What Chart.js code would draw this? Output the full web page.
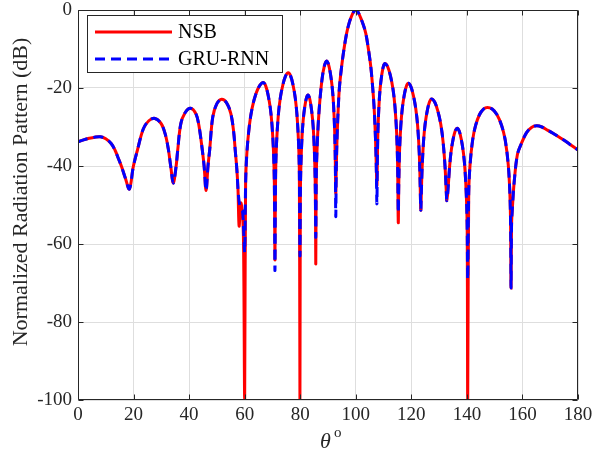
<!DOCTYPE html>
<html><head><meta charset="utf-8">
<script src="https://cdn.jsdelivr.net/npm/chart.js@4.4.1/dist/chart.umd.min.js"></script>
<style>html,body{margin:0;padding:0;background:#fff;}canvas{display:block;}</style>
</head><body>
<canvas id="c" width="605" height="457"></canvas>
<script>
// ---- data ----
const theta = [
  0,2,4,6,8,10,12,13.3,14.5,15.7,17,18.5,
  19.9,21.4,23.5,25.5,27.7,30,31.5,32.5,33.4,34.3,
  35.3,35.9,37,38.5,40.5,42.5,43.5,44.5,45.4,46.1,
  46.8,47.4,48.5,50,51.7,53.5,55,56,56.6,57.2,57.6,
  58,58.6,59.2,59.6,60,
  60.34,60.8,61.7,62.7,64,65.4,66.7,67.54,68.38,69.22,69.85,70.4,70.69,70.9,
  71.14,71.48,72.1,72.82,73.78,74.74,75.7,76.54,77.38,78.22,78.85,79.4,79.69,79.9,
  80.05,80.25,80.63,81.06,81.64,82.22,82.8,83.36,83.92,84.48,84.9,85.26,85.46,85.6,
  85.8,86.1,86.5,87.1,87.9,88.7,89.5,90.16,90.82,91.48,91.98,92.4,92.64,92.8,
  93,93.3,93.7,94.1,94.9,95.8,96.7,97.5,98.3,99.2,100,
  100.8,101.7,102.7,103.6,104.5,105.4,106.1,106.6,107.1,107.35,107.6,
  107.75,107.95,108.33,108.76,109.34,109.92,110.5,111.46,112.42,113.38,114.1,114.72,115.06,115.3,
  115.48,115.73,116.2,116.74,117.46,118.18,118.9,119.8,120.7,121.6,122.28,122.86,123.18,123.4,
  123.6,123.87,124.38,124.96,125.74,126.52,127.3,128.4,129.5,130.6,131.43,132.14,132.53,132.8,
  133.24,133.73,134.28,135.02,135.76,136.5,137.26,138.02,138.78,139.35,139.84,140.11,140.3,
  140.66,141.15,142.08,143.14,144.56,145.98,147.4,149.1,150.8,152.5,153.78,154.88,155.48,155.73,155.9,
  156.08,156.36,157,158.2,159.58,161.42,163.26,165.1,167,169,171,173,175,177,180
];
const nsb = [
  -33.8,-33.3,-32.9,-32.6,-32.5,-33.0,-34.3,-35.9,-38.0,-40.2,-43.0,-45.9,
  -40.2,-35.9,-30.5,-28.4,-27.8,-29.2,-32.1,-35.6,-40.2,-44.4,
  -40.2,-35.9,-29.2,-26.4,-25.2,-26.7,-29.5,-34.5,-40.0,-46.3,
  -40.0,-35.9,-27.5,-24.0,-22.9,-23.8,-26.5,-31.0,-35.9,-41.0,-46.0,
  -55.4,-49.5,-52.0,-60.0,-100,
  -44.6,-36.6,-29.6,-25.1,-21.6,-19.4,-18.6,-19.4,-21.6,-25.1,-29.6,-36.6,-44.6,-64.1,
  -42.1,-34.1,-27.1,-22.6,-19.1,-16.9,-16.1,-16.9,-19.1,-22.6,-27.1,-34.1,-42.1,-100,
  -47.8,-39.8,-32.8,-28.3,-24.8,-22.6,-21.8,-22.6,-24.8,-28.3,-32.8,-39.8,-47.8,-65.1,
  -42,-35,-29,-23,-17.5,-14.3,-13.1,-13.9,-16.1,-19.6,-24.1,-31.1,-39.1,-47,
  -40,-32,-25,-20,-14.5,-9.8,-6,-3.6,-1.9,-0.5,0,
  -0.5,-1.9,-3.8,-6,-9.8,-14.5,-20,-25,-33,-39,-45,
  -39.7,-31.7,-24.7,-20.2,-16.7,-14.5,-13.7,-14.5,-16.7,-20.2,-24.7,-31.7,-39.7,-54.5,
  -44.8,-36.8,-29.8,-25.3,-21.8,-19.6,-18.8,-19.6,-21.8,-25.3,-29.8,-36.8,-44.8,-51.3,
  -46.9,-40.8,-33.8,-29.3,-25.8,-23.6,-22.8,-23.6,-25.8,-29.3,-33.8,-40.2,-45.8,-48.9,
  -45.6,-40.6,-36.5,-33.2,-31.1,-30.3,-31.1,-33.3,-36.8,-41.3,-48.3,-56.3,-100,
  -47.1,-39.6,-33.3,-29.6,-26.8,-25.4,-25.0,-25.4,-26.8,-29.6,-33.3,-39.6,-47.1,-55,-71.3,
  -55,-51,-44.3,-37.0,-34.3,-31.5,-30.1,-29.7,-30.0,-30.8,-31.6,-32.5,-33.4,-34.4,-35.9
];
const gru = [
  -33.8,-33.3,-32.9,-32.6,-32.5,-33.0,-34.3,-35.9,-38.0,-40.2,-43.0,-45.9,
  -40.2,-35.9,-30.5,-28.4,-27.8,-29.2,-32.1,-35.6,-40.2,-44.4,
  -40.2,-35.9,-29.2,-26.4,-25.2,-26.7,-29.5,-34.5,-40.0,-46.3,
  -40.0,-35.9,-27.5,-24.0,-22.9,-23.8,-26.5,-31.0,-35.9,-41.0,-46.0,
  -49.0,-51.0,-51.5,-56.0,-62.0,
  -44.6,-36.6,-29.6,-25.1,-21.6,-19.4,-18.6,-19.4,-21.6,-25.1,-29.6,-36.6,-44.6,-66.8,
  -42.1,-34.1,-27.1,-22.6,-19.1,-16.9,-16.1,-16.9,-19.1,-22.6,-27.1,-34.1,-42.1,-63,
  -47.8,-39.8,-32.8,-28.3,-24.8,-22.6,-21.8,-22.6,-24.8,-28.3,-32.8,-39.8,-47.8,-58.2,
  -42,-35,-29,-23,-17.5,-14.3,-13.1,-13.9,-16.1,-19.6,-24.1,-31.1,-39.1,-53,
  -40,-32,-25,-20,-14.5,-9.8,-6,-3.6,-1.9,-0.5,0,
  -0.5,-1.9,-3.8,-6,-9.8,-14.5,-20,-25,-33,-39,-49.7,
  -39.7,-31.7,-24.7,-20.2,-16.7,-14.5,-13.7,-14.5,-16.7,-20.2,-24.7,-31.7,-39.7,-52,
  -44.8,-36.8,-29.8,-25.3,-21.8,-19.6,-18.8,-19.6,-21.8,-25.3,-29.8,-36.8,-44.8,-51.3,
  -46.9,-40.8,-33.8,-29.3,-25.8,-23.6,-22.8,-23.6,-25.8,-29.3,-33.8,-40.2,-45.8,-48.9,
  -45.6,-40.6,-36.5,-33.2,-31.1,-30.3,-31.1,-33.3,-36.8,-41.3,-48.3,-56.3,-69,
  -47.1,-39.6,-33.3,-29.6,-26.8,-25.4,-25.0,-25.4,-26.8,-29.6,-33.3,-39.6,-47.1,-55,-71.3,
  -55,-51,-44.3,-37.0,-34.3,-31.5,-30.1,-29.7,-30.0,-30.8,-31.6,-32.5,-33.4,-34.4,-35.9
];
const xTicks = [0,20,40,60,80,100,120,140,160,180];
const yTicks = [-100,-80,-60,-40,-20,0];
const seriesNames = ['NSB','GRU-RNN'];
const yTitle = 'Normalized Radiation Pattern (dB)';

// ---- chart ----
const SERIF = '"Liberation Serif","Times New Roman",serif';
const TXT = '#262626';
const toPts = arr => theta.map((t,i)=>({x:t,y:arr[i]}));

const decor = {
  id:'decor',
  afterDatasetsDraw(chart){
    const {ctx, chartArea:a, scales:{x,y}} = chart;
    ctx.save();
    ctx.strokeStyle = TXT; ctx.lineWidth = 1;
    const L=Math.round(a.left)+0.5, R=Math.round(a.right)-0.5, T=Math.round(a.top)+0.5, B=Math.round(a.bottom)-0.5;
    ctx.beginPath();
    ctx.rect(L,T,R-L,B-T);
    xTicks.forEach(v=>{const px=Math.round(x.getPixelForValue(v))+0.5;
      ctx.moveTo(px,B);ctx.lineTo(px,B-5);ctx.moveTo(px,T);ctx.lineTo(px,T+5);});
    yTicks.forEach(v=>{const py=Math.round(y.getPixelForValue(v))+0.5;
      ctx.moveTo(L,py);ctx.lineTo(L+5,py);ctx.moveTo(R,py);ctx.lineTo(R-5,py);});
    ctx.stroke();
    ctx.restore();
  },
  afterDraw(chart){
    const ctx = chart.ctx;
    ctx.save();
    // legend
    ctx.fillStyle='#fff'; ctx.fillRect(87,15,195,57);
    ctx.strokeStyle=TXT; ctx.lineWidth=1; ctx.strokeRect(87.5,15.5,195,57);
    ctx.lineWidth=3;
    ctx.strokeStyle='#ff0000'; ctx.setLineDash([]);
    ctx.beginPath(); ctx.moveTo(95,32); ctx.lineTo(172,32); ctx.stroke();
    ctx.strokeStyle='#0000ff'; ctx.setLineDash([10,6]);
    ctx.beginPath(); ctx.moveTo(95,59); ctx.lineTo(172,59); ctx.stroke();
    ctx.setLineDash([]);
    ctx.fillStyle='#000'; ctx.font='20px '+SERIF; ctx.textBaseline='middle'; ctx.textAlign='left';
    ctx.fillText(seriesNames[0],178,33);
    ctx.fillText(seriesNames[1],178,60);
    // y title
    ctx.fillStyle=TXT;
    ctx.save(); ctx.translate(21,192); ctx.rotate(-Math.PI/2);
    ctx.font='22px '+SERIF; ctx.textAlign='center'; ctx.textBaseline='middle';
    ctx.fillText(yTitle,0,0); ctx.restore();
    // x title  θ^o
    ctx.textBaseline='alphabetic'; ctx.textAlign='left';
    ctx.font='italic 22px '+SERIF; ctx.fillText('\u03B8',320,448);
    ctx.font='15px '+SERIF; ctx.fillText('o',334,437);
    ctx.restore();
  }
};

new Chart(document.getElementById('c'), {
  type:'line',
  data:{datasets:[
    {label:seriesNames[0], data:toPts(nsb), borderColor:'#ff0000', borderWidth:3, pointRadius:0,
     tension:0.35, fill:false, order:1},
    {label:seriesNames[1], data:toPts(gru), borderColor:'#0000ff', borderWidth:3, borderDash:[10,6], pointRadius:0,
     tension:0.35, fill:false, order:0}
  ]},
  options:{
    responsive:false, animation:false, devicePixelRatio:1,
    layout:{padding:{left:0,right:27,top:10,bottom:0}},
    plugins:{legend:{display:false}, tooltip:{enabled:false}},
    scales:{
      x:{type:'linear', min:0, max:180,
         afterBuildTicks:s=>{s.ticks=xTicks.map(v=>({value:v}));},
         afterFit:s=>{s.height=57; s.paddingLeft=0; s.paddingRight=0;},
         ticks:{font:{family:SERIF,size:19}, color:TXT, padding:4, maxRotation:0, autoSkip:false},
         grid:{color:'#dedede', lineWidth:1, drawTicks:false}, border:{display:false}},
      y:{type:'linear', min:-100, max:0,
         afterBuildTicks:s=>{s.ticks=yTicks.map(v=>({value:v}));},
         afterFit:s=>{s.width=78; s.paddingTop=0; s.paddingBottom=0;},
         ticks:{font:{family:SERIF,size:19}, color:TXT, padding:6},
         grid:{color:'#dedede', lineWidth:1, drawTicks:false}, border:{display:false}}
    }
  },
  plugins:[decor]
});
</script>
</body></html>
